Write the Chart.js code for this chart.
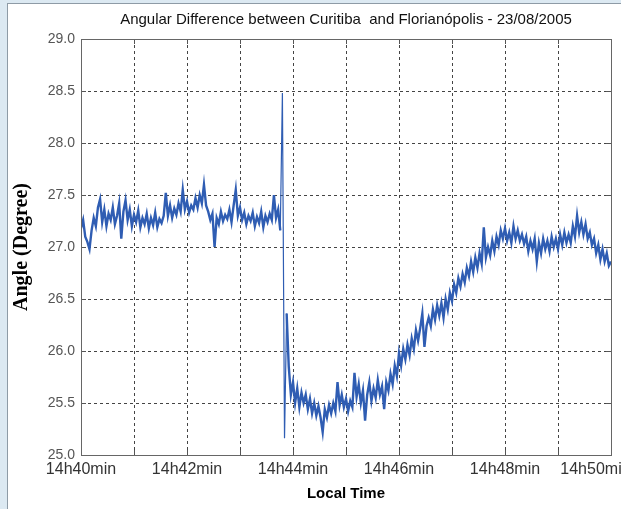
<!DOCTYPE html>
<html>
<head>
<meta charset="utf-8">
<script src="https://cdn.jsdelivr.net/npm/chart.js@4.4.1/dist/chart.umd.min.js"></script>
<style>
  html, body { margin: 0; padding: 0; background: #dce9f2; width: 621px; height: 509px; overflow: hidden; }
  #panel { position: absolute; left: 7px; top: 3px; width: 614px; height: 506px; background: #ffffff;
           border-left: 1px solid #8e9ba6; border-top: 1px solid #8e9ba6; box-sizing: border-box; }
  #c { position: absolute; left: 0; top: 0; }
</style>
</head>
<body>
<div id="panel"></div>
<canvas id="c" width="621" height="509"></canvas>
<script>
// ---- data ----
const startMin = 0;            // minutes after 14h40
const sampleStepMin = 0.04;    // spacing between samples, minutes
const angleDeg = [
  27.18, 27.26, 27.10, 27.05, 26.98, 27.16, 27.28, 27.20, 27.38, 27.46,
  27.24, 27.36, 27.20, 27.32, 27.26, 27.38, 27.22, 27.30, 27.42, 27.08,
  27.34, 27.45, 27.26, 27.36, 27.20, 27.31, 27.24, 27.35, 27.19, 27.28,
  27.22, 27.32, 27.18, 27.28, 27.21, 27.33, 27.19, 27.27, 27.23, 27.30,
  27.52, 27.30, 27.40, 27.28, 27.37, 27.31, 27.42, 27.34, 27.55, 27.36,
  27.44, 27.33, 27.40, 27.36, 27.47, 27.38, 27.50, 27.42, 27.60, 27.40,
  27.34, 27.26, 27.32, 27.00, 27.28, 27.22, 27.34, 27.25, 27.31, 27.27,
  27.36, 27.24, 27.40, 27.55, 27.30, 27.38, 27.26, 27.33, 27.22, 27.30,
  27.25, 27.33, 27.20, 27.29, 27.23, 27.34, 27.19, 27.30, 27.24, 27.32,
  27.26, 27.50, 27.28, 27.36, 27.16, 28.48, 25.16, 26.36, 25.85, 25.58,
  25.70, 25.50, 25.64, 25.46, 25.60, 25.50, 25.58, 25.44, 25.54, 25.40,
  25.50, 25.38, 25.47, 25.36, 25.22, 25.44, 25.36, 25.48, 25.40, 25.50,
  25.42, 25.70, 25.48, 25.58, 25.46, 25.54, 25.42, 25.52, 25.46, 25.79,
  25.56, 25.68, 25.50, 25.62, 25.33, 25.58, 25.70, 25.52, 25.64, 25.55,
  25.72, 25.58, 25.66, 25.44, 25.70, 25.62, 25.78, 25.68, 25.86, 25.76,
  25.98, 25.86, 26.02, 25.92, 26.06, 25.96, 26.12, 26.02, 26.20, 26.10,
  26.22, 26.36, 26.04, 26.24, 26.32, 26.24, 26.40, 26.30, 26.44, 26.34,
  26.46, 26.32, 26.50, 26.40, 26.56, 26.48, 26.64, 26.56, 26.70, 26.62,
  26.74, 26.66, 26.80, 26.72, 26.86, 26.76, 26.90, 26.80, 26.94, 26.84,
  27.19, 26.90, 27.00, 26.92, 27.06, 26.96, 27.10, 27.02, 27.16, 27.08,
  27.18, 27.06, 27.14, 27.04, 27.20, 27.08, 27.16, 27.06, 27.12, 27.03,
  27.10, 26.96, 27.06, 26.98, 27.08, 26.86, 27.04, 26.94, 27.08, 26.98,
  27.06, 26.96, 27.10, 27.00, 27.08, 26.98, 27.12, 27.02, 27.14, 27.04,
  27.12, 27.04, 27.20, 27.10, 27.30, 27.14, 27.24, 27.12, 27.22, 27.08,
  27.14, 27.02, 27.08, 26.94, 27.02, 26.88, 26.98, 26.86, 26.94, 26.82, 26.86
];
const timeTickMin = [0, 1, 2, 3, 4, 5, 6, 7, 8, 9, 10];
const timeLabels = {0: '14h40min', 2: '14h42min', 4: '14h44min', 6: '14h46min', 8: '14h48min', 10: '14h50min'};
const angleMin = 25.0, angleMax = 29.0, angleStep = 0.5;
const titleText = 'Angular Difference between Curitiba  and Florianópolis - 23/08/2005';
const xTitle = 'Local Time';
const yTitle = 'Angle (Degree)';

// ---- build points ----
const points = angleDeg.map((v, i) => ({ x: startMin + i * sampleStepMin, y: v }));

const framePlugin = {
  id: 'frame',
  afterDatasetsDraw(chart) {
    const { ctx, chartArea: a, scales } = chart;
    ctx.save();
    ctx.strokeStyle = '#555';
    ctx.lineWidth = 1;
    ctx.setLineDash([]);
    ctx.beginPath();
    timeTickMin.forEach(t => {
      const px = Math.round(scales.x.getPixelForValue(t)) + 0.5;
      ctx.moveTo(px, a.bottom); ctx.lineTo(px, a.bottom - 5);
      ctx.moveTo(px, a.top); ctx.lineTo(px, a.top + 5);
    });
    for (let v = angleMin; v <= angleMax + 1e-9; v += angleStep) {
      const py = Math.round(scales.y.getPixelForValue(v)) + 0.5;
      ctx.moveTo(a.left, py); ctx.lineTo(a.left + 5, py);
      ctx.moveTo(a.right, py); ctx.lineTo(a.right - 5, py);
    }
    ctx.stroke();
    ctx.strokeStyle = '#666';
    ctx.strokeRect(Math.round(a.left) + 0.5, Math.round(a.top) + 0.5,
                   Math.round(a.right - a.left), Math.round(a.bottom - a.top));
    ctx.restore();
  }
};

new Chart(document.getElementById('c'), {
  type: 'line',
  data: {
    datasets: [{
      data: points,
      borderColor: '#2f5db3',
      borderWidth: 2.4,
      borderJoinStyle: 'miter',
      pointRadius: 0,
      tension: 0,
      fill: false,
      segment: {
        // the sudden jump is drawn as a thin trace, as in the reference
        borderWidth: ctx => (Math.abs(ctx.p1.parsed.y - ctx.p0.parsed.y) > 0.8 ? 1.2 : 2.4)
      }
    }]
  },
  options: {
    responsive: false,
    animation: false,
    events: [],
    layout: { padding: { left: 0, right: 10, top: 0, bottom: 0 } },
    plugins: {
      legend: { display: false },
      tooltip: { enabled: false },
      title: {
        display: true,
        text: titleText,
        fullSize: false,
        color: '#111',
        font: { family: '"Liberation Sans", Arial, sans-serif', size: 15, weight: 'normal' },
        padding: { top: 11, bottom: 10 }
      }
    },
    scales: {
      x: {
        type: 'linear',
        min: 0, max: 10,
        afterFit(s) { s.height = 54; s.paddingLeft = 0; s.paddingRight = 0; },
        afterBuildTicks(s) { s.ticks = timeTickMin.map(v => ({ value: v })); },
        ticks: {
          autoSkip: false, maxRotation: 0, minRotation: 0, padding: 5,
          color: '#333',
          font: { family: '"Liberation Sans", Arial, sans-serif', size: 16 },
          callback: v => (timeLabels[v] !== undefined ? (v === 10 ? timeLabels[v] + '       ' : timeLabels[v]) : '')
        },
        grid: { color: '#444', lineWidth: 1, drawTicks: false, borderDash: [3, 3] },
        border: { display: true, color: '#666', dash: [3, 3] },
        title: {
          display: true, text: xTitle, color: '#000',
          font: { family: '"Liberation Sans", Arial, sans-serif', size: 15, weight: 'bold' },
          padding: { top: 0, bottom: 6 }
        }
      },
      y: {
        type: 'linear',
        min: angleMin, max: angleMax,
        afterFit(s) { s.width = 81; s.paddingTop = 0; s.paddingBottom = 0; },
        ticks: {
          stepSize: angleStep, padding: 6, color: '#555',
          font: { family: '"Liberation Sans", Arial, sans-serif', size: 14 },
          callback: v => Number(v).toFixed(1)
        },
        grid: { color: '#444', lineWidth: 1, drawTicks: false, borderDash: [3, 3] },
        border: { display: true, color: '#666', dash: [3, 3] },
        title: {
          display: true, text: yTitle, color: '#000',
          font: { family: '"Liberation Serif", "Times New Roman", serif', size: 20, weight: 'bold' },
          padding: { top: 10, bottom: 0 }
        }
      }
    }
  },
  plugins: [framePlugin]
});
</script>
</body>
</html>
